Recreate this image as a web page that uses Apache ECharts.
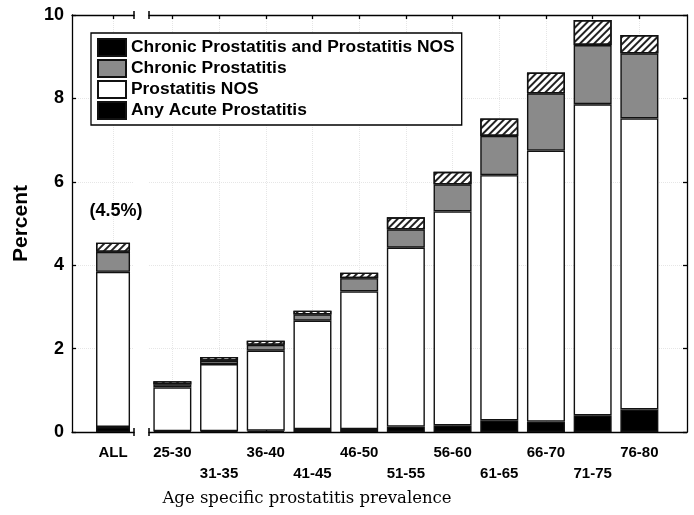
<!DOCTYPE html>
<html>
<head>
<meta charset="utf-8">
<script src="https://cdn.jsdelivr.net/npm/echarts@6/dist/echarts.min.js"></script>
<style>
  html, body { margin: 0; padding: 0; background: #fff; }
  #chart { width: 694px; height: 515px; }
</style>
</head>
<body>
<div id="chart"></div>
<script>
// age groups (right panel) and the pooled "ALL" bar (left panel)
var categories = ['25-30', '31-35', '36-40', '41-45', '46-50', '51-55', '56-60', '61-65', '66-70', '71-75', '76-80'];
var allLabel = 'ALL';
var allTotalText = '(4.5%)';

// percent, stacked bottom -> top
var acute   = [0.02, 0.02, 0.03, 0.07, 0.07, 0.13, 0.16, 0.28, 0.25, 0.40, 0.54];
var nos     = [1.05, 1.61, 1.92, 2.60, 3.30, 4.29, 5.13, 5.88, 6.50, 7.46, 6.98];
var chronic = [0.07, 0.08, 0.14, 0.15, 0.32, 0.44, 0.65, 0.94, 1.37, 1.42, 1.56];
var both    = [0.08, 0.09, 0.10, 0.09, 0.13, 0.29, 0.30, 0.42, 0.50, 0.60, 0.44];

var allAcute = 0.12, allNos = 3.72, allChronic = 0.48, allBoth = 0.22;

var yTicks = [0, 2, 4, 6, 8, 10];

var NAME_ACUTE = 'Any Acute Prostatitis';
var NAME_NOS = 'Prostatitis NOS';
var NAME_CHRONIC = 'Chronic Prostatitis';
var NAME_BOTH = 'Chronic Prostatitis and Prostatitis NOS';

var chart = echarts.init(document.getElementById('chart'));

var sans = '"Liberation Sans", Arial, Helvetica, sans-serif';
var idx = categories.map(function (c, i) { return i; });

var hatch = {
  color: '#222',
  dashArrayX: [1, 0],
  dashArrayY: [1.2, 2.2],
  rotation: -Math.PI / 4
};

var styles = {};
styles[NAME_ACUTE] = { color: '#000', borderColor: '#111', borderWidth: 1.4 };
styles[NAME_NOS] = { color: '#fff', borderColor: '#111', borderWidth: 1.4 };
styles[NAME_CHRONIC] = { color: '#8a8a8a', borderColor: '#111', borderWidth: 1.4 };
styles[NAME_BOTH] = { color: '#fff', borderColor: '#111', borderWidth: 1.4, decal: hatch };

// value first, position second, so the value column is the one that gets stacked
function pairs(values) {
  return values.map(function (v, i) { return [v, i]; });
}

// each grid has a bottom and a top x axis, so the bottom one is 2 * gi
function barSeries(name, data, gi, width) {
  return {
    type: 'bar',
    name: name,
    stack: 'p' + gi,
    xAxisIndex: gi * 2,
    yAxisIndex: gi,
    encode: { x: 1, y: 0 },
    barWidth: width,
    data: data,
    itemStyle: styles[name],
    animation: false
  };
}

var splitStyle = { show: true, lineStyle: { color: '#e6e6e6', type: 'dotted', width: 1 } };
var lineStyle = { color: '#000', width: 1.3 };
var breakMark = [8, 1.5];

function xAxes(gi, min, max, ticks, formatter, breakAt) {
  var sym = breakAt === 'end' ? ['none', 'rect'] : ['rect', 'none'];
  return [{
    type: 'value', gridIndex: gi, position: 'bottom', min: min, max: max,
    axisLine: { show: true, onZero: false, lineStyle: lineStyle, symbol: sym, symbolSize: breakMark },
    axisTick: { show: true, inside: true, length: 4, customValues: ticks, lineStyle: lineStyle },
    axisLabel: {
      show: true, customValues: ticks, formatter: formatter, margin: 10,
      color: '#000', fontFamily: sans, fontWeight: 'bold', fontSize: 15, lineHeight: 21
    },
    splitLine: splitStyle
  }, {
    type: 'value', gridIndex: gi, position: 'top', min: min, max: max,
    axisLine: { show: true, onZero: false, lineStyle: lineStyle, symbol: sym, symbolSize: breakMark },
    axisTick: { show: true, inside: true, length: 4, customValues: ticks, lineStyle: lineStyle },
    axisLabel: { show: false },
    splitLine: { show: false }
  }];
}

var xs = []
  .concat(xAxes(0, -0.88, 0.45, [0], function () { return allLabel; }, 'end'))
  .concat(xAxes(1, -0.5, 11.02, idx, function (v) {
    var i = Math.round(v);
    return i % 2 ? '\n' + categories[i] : categories[i];
  }, 'start'));

var option = {
  backgroundColor: '#fff',
  animation: false,
  title: {
    text: 'Age specific prostatitis prevalence',
    left: 302, top: 485, textAlign: 'center',
    textStyle: { fontFamily: '"DejaVu Serif", "Liberation Serif", serif', fontWeight: 'normal', fontSize: 16.5, color: '#000' }
  },
  legend: {
    orient: 'vertical',
    left: 91, top: 33,
    icon: 'rect',
    data: [
      // the printed legend shows this entry as a plain black box
      { name: NAME_BOTH, itemStyle: { color: '#000', decal: 'none' } },
      NAME_CHRONIC, NAME_NOS, NAME_ACUTE
    ],
    itemWidth: 28, itemHeight: 17, itemGap: 2,
    padding: [5, 7, 5, 6],
    backgroundColor: '#fff',
    borderColor: '#000', borderWidth: 1.3,
    textStyle: { fontFamily: sans, fontWeight: 'bold', fontSize: 17.4, color: '#000' },
    selectedMode: false,
    z: 10
  },
  grid: [
    { left: 72, top: 15, width: 62, height: 417 },
    { left: 149, top: 15, width: 538, height: 417 }
  ],
  xAxis: xs,
  yAxis: [{
    type: 'value', gridIndex: 0, min: 0, max: 10, interval: 2, position: 'left',
    name: 'Percent', nameLocation: 'middle', nameGap: 40,
    nameTextStyle: { fontFamily: sans, fontWeight: 'bold', fontSize: 21, color: '#000' },
    axisLine: { show: true, onZero: false, lineStyle: lineStyle },
    axisTick: { show: true, inside: true, length: 4, lineStyle: lineStyle },
    axisLabel: {
      color: '#000', fontFamily: sans, fontWeight: 'bold', fontSize: 18, margin: 8,
      formatter: function (v) { return yTicks.indexOf(v) >= 0 ? String(v) : ''; }
    },
    splitLine: splitStyle
  }, {
    type: 'value', gridIndex: 1, min: 0, max: 10, interval: 2, position: 'right',
    axisLine: { show: true, onZero: false, lineStyle: lineStyle },
    axisTick: { show: true, inside: true, length: 4, lineStyle: lineStyle },
    axisLabel: { show: false },
    splitLine: splitStyle
  }],
  series: [
    barSeries(NAME_ACUTE, [[allAcute, 0]], 0, 34),
    barSeries(NAME_NOS, [[allNos, 0]], 0, 34),
    barSeries(NAME_CHRONIC, [[allChronic, 0]], 0, 34),
    Object.assign(barSeries(NAME_BOTH, [[allBoth, 0]], 0, 34), {
      label: {
        show: true, position: 'top', distance: 23, offset: [3, 0],
        formatter: allTotalText,
        fontFamily: sans, fontWeight: 'bold', fontSize: 18, color: '#000'
      }
    }),
    barSeries(NAME_ACUTE, pairs(acute), 1, 38),
    barSeries(NAME_NOS, pairs(nos), 1, 38),
    barSeries(NAME_CHRONIC, pairs(chronic), 1, 38),
    barSeries(NAME_BOTH, pairs(both), 1, 38)
  ]
};

chart.setOption(option);
</script>
</body>
</html>
